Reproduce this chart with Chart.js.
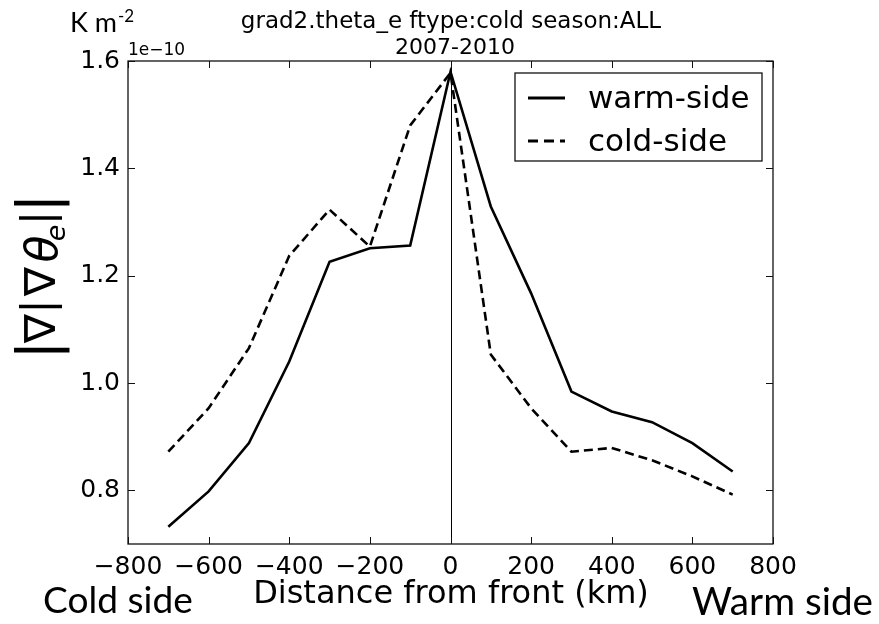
<!DOCTYPE html>
<html>
<head>
<meta charset="utf-8">
<script src="https://cdn.jsdelivr.net/npm/chart.js@4.4.1/dist/chart.umd.min.js"></script>
<style>
  html, body { margin: 0; padding: 0; background: #fff; }
  #wrap { width: 879px; height: 624px; }
</style>
</head>
<body>
<div id="wrap"><canvas id="c" width="879" height="624"></canvas></div>
<script>
// ---- data (values in units of 1e-10 K m^-2) ----
const distances = [-700, -600, -500, -400, -300, -200, -100, 0, 100, 200, 300, 400, 500, 600, 700];
const warmSide = [0.732, 0.798, 0.888, 1.040, 1.226, 1.251, 1.256, 1.580, 1.329, 1.167, 0.984, 0.947, 0.927, 0.888, 0.835];
const coldSide = [0.872, 0.953, 1.065, 1.237, 1.323, 1.254, 1.480, 1.578, 1.053, 0.953, 0.872, 0.879, 0.856, 0.826, 0.792];
const xTicks = [-800, -600, -400, -200, 0, 200, 400, 600, 800];
const yTicks = [0.8, 1.0, 1.2, 1.4, 1.6];
const seriesNames = ['warm-side', 'cold-side'];
const titleLines = ['grad2.theta_e ftype:cold season:ALL', '2007-2010'];
const xLabel = 'Distance from front (km)';

const toPts = (ys) => distances.map((x, i) => ({ x: x, y: ys[i] }));

const decor = {
  id: 'decor',
  afterDatasetsDraw(chart) {
    const ctx = chart.ctx;
    const a = chart.chartArea;
    const xs = chart.scales.x, ys = chart.scales.y;
    ctx.save();
    // vertical line at x = 0
    const x0 = Math.round(xs.getPixelForValue(0)) + 0.5;
    ctx.strokeStyle = '#000';
    ctx.lineWidth = 1;
    ctx.beginPath(); ctx.moveTo(x0, a.top); ctx.lineTo(x0, a.bottom); ctx.stroke();
    // frame
    ctx.strokeStyle = '#111';
    ctx.lineWidth = 1.3;
    ctx.strokeRect(a.left, a.top, a.right - a.left, a.bottom - a.top);
    // inward ticks on all sides
    ctx.lineWidth = 1;
    const tl = 7;
    xTicks.forEach(v => {
      const px = Math.round(xs.getPixelForValue(v)) + 0.5;
      ctx.beginPath(); ctx.moveTo(px, a.bottom); ctx.lineTo(px, a.bottom - tl); ctx.stroke();
      ctx.beginPath(); ctx.moveTo(px, a.top); ctx.lineTo(px, a.top + tl); ctx.stroke();
    });
    yTicks.forEach(v => {
      const py = Math.round(ys.getPixelForValue(v)) + 0.5;
      ctx.beginPath(); ctx.moveTo(a.left, py); ctx.lineTo(a.left + tl, py); ctx.stroke();
      ctx.beginPath(); ctx.moveTo(a.right, py); ctx.lineTo(a.right - tl, py); ctx.stroke();
    });
    // legend
    const lx = 515, ly = 73, lw = 247, lh = 88;
    ctx.fillStyle = '#fff';
    ctx.fillRect(lx, ly, lw, lh);
    ctx.strokeStyle = '#111';
    ctx.lineWidth = 1.3;
    ctx.strokeRect(lx, ly, lw, lh);
    ctx.strokeStyle = '#000';
    ctx.lineWidth = 3;
    ctx.beginPath(); ctx.moveTo(528, 98); ctx.lineTo(565, 98); ctx.stroke();
    ctx.setLineDash([10, 6]);
    ctx.beginPath(); ctx.moveTo(528, 141); ctx.lineTo(565, 141); ctx.stroke();
    ctx.setLineDash([]);
    ctx.fillStyle = '#000';
    ctx.font = '31px "DejaVu Sans"';
    ctx.textAlign = 'left';
    ctx.textBaseline = 'alphabetic';
    ctx.fillText(seriesNames[0], 588, 108);
    ctx.fillText(seriesNames[1], 588, 151);
    ctx.restore();
  },
  afterDraw(chart) {
    const ctx = chart.ctx;
    ctx.save();
    ctx.fillStyle = '#000';
    ctx.textBaseline = 'alphabetic';
    // title
    ctx.font = '23px "DejaVu Sans"';
    ctx.textAlign = 'center';
    ctx.fillText(titleLines[0], 451, 28);
    ctx.font = '22px "DejaVu Sans"';
    ctx.fillText(titleLines[1], 455, 54);
    // offset text
    ctx.font = '17px "DejaVu Sans"';
    ctx.textAlign = 'left';
    ctx.fillText('1e\u221210', 128, 55);
    // x axis label
    ctx.font = '32px "DejaVu Sans"';
    ctx.textAlign = 'center';
    ctx.fillText(xLabel, 451, 603);
    // side labels (fit width)
    const fitText = (txt, x, base, w) => {
      ctx.font = '40px Lato';
      const m = ctx.measureText(txt).width;
      const sz = 40 * w / m;
      ctx.font = sz.toFixed(1) + 'px Lato';
      ctx.textAlign = 'left';
      ctx.fillText(txt, x, base);
    };
    fitText('Cold side', 43, 613, 150);
    fitText('Warm side', 692, 615, 181);
    // units
    ctx.font = '27px Lato';
    ctx.textAlign = 'left';
    ctx.fillText('K m', 70, 32);
    const kw = ctx.measureText('K m').width;
    ctx.font = '17px Lato';
    ctx.fillText('-2', 70 + kw + 1, 22);
    // y-axis label |∇|∇θe||, rotated
    const piece = (ch, font, xb, yc) => {
      ctx.save();
      ctx.translate(xb, yc);
      ctx.rotate(-Math.PI / 2);
      ctx.font = font;
      ctx.textAlign = 'center';
      ctx.textBaseline = 'alphabetic';
      ctx.fillText(ch, 0, 0);
      ctx.restore();
    };
    piece('|', '56px "DejaVu Sans"', 56, 350);
    piece('\u2207', '43px "DejaVu Sans"', 55, 328.5);
    piece('|', '42px "DejaVu Sans"', 52, 306.5);
    piece('\u2207', '43px "DejaVu Sans"', 55, 281.5);
    piece('\u03b8', 'oblique 44px "DejaVu Sans"', 57, 249);
    piece('e', 'oblique 27px "DejaVu Sans"', 65, 233);
    piece('|', '42px "DejaVu Sans"', 52, 218);
    piece('|', '56px "DejaVu Sans"', 56, 203);
    ctx.restore();
  }
};

new Chart(document.getElementById('c'), {
  type: 'line',
  data: {
    datasets: [
      { label: seriesNames[0], data: toPts(warmSide), borderColor: '#000', borderWidth: 2.6,
        pointRadius: 0, tension: 0, fill: false },
      { label: seriesNames[1], data: toPts(coldSide), borderColor: '#000', borderWidth: 2.6,
        borderDash: [9, 5], pointRadius: 0, tension: 0, fill: false }
    ]
  },
  options: {
    responsive: false,
    animation: false,
    devicePixelRatio: 1,
    layout: { padding: { left: 0, top: 61, right: 106, bottom: 0 } },
    plugins: { legend: { display: false }, title: { display: false }, tooltip: { enabled: false } },
    scales: {
      x: {
        type: 'linear', min: -800, max: 800,
        grid: { display: false, drawTicks: false },
        border: { display: false },
        afterBuildTicks: (s) => { s.ticks = xTicks.map(v => ({ value: v })); },
        afterFit: (s) => { s.height = 80; },
        ticks: {
          autoSkip: false, maxRotation: 0, padding: 8, color: '#000',
          font: { family: "'DejaVu Sans'", size: 25 },
          callback: (v) => (v < 0 ? '\u2212' + Math.abs(v) : String(v))
        }
      },
      y: {
        type: 'linear', min: 0.7, max: 1.6,
        grid: { display: false, drawTicks: false },
        border: { display: false },
        afterBuildTicks: (s) => { s.ticks = yTicks.map(v => ({ value: v })); },
        afterFit: (s) => { s.width = 128; },
        ticks: {
          autoSkip: false, padding: 8, color: '#000',
          font: { family: "'DejaVu Sans'", size: 25 },
          callback: (v) => Number(v).toFixed(1)
        }
      }
    }
  },
  plugins: [decor]
});
</script>
</body>
</html>
